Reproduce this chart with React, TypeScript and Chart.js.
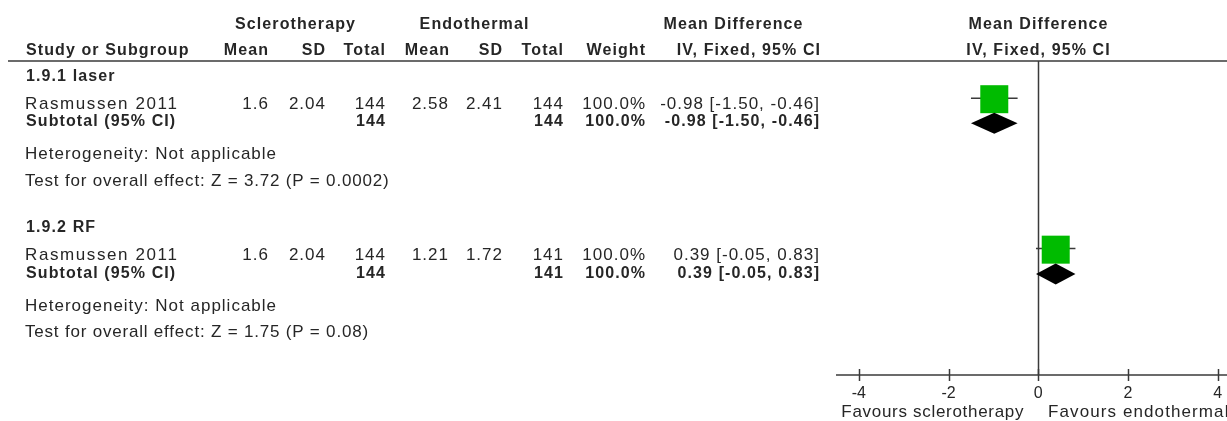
import React, { useEffect, useRef } from "react";
import { Chart, registerables } from "chart.js";

Chart.register(...registerables);

// ---- data ----
const subgroups = ["1.9.1 laser", "1.9.2 RF"];
const studies = ["Rasmussen 2011", "Rasmussen 2011"];
const scleroMean = [1.6, 1.6];
const scleroSD = [2.04, 2.04];
const scleroTotal = [144, 144];
const endoMean = [2.58, 1.21];
const endoSD = [2.41, 1.72];
const endoTotal = [144, 141];
const weights = [100.0, 100.0];
const meanDiff = [-0.98, 0.39];
const ciLow = [-1.5, -0.05];
const ciHigh = [-0.46, 0.83];
const heterogeneity = ["Heterogeneity: Not applicable", "Heterogeneity: Not applicable"];
const overallEffect = [
  "Test for overall effect: Z = 3.72 (P = 0.0002)",
  "Test for overall effect: Z = 1.75 (P = 0.08)",
];
const studyRow = [1.46, 7.21];
const subtotalRow = [2.38, 8.14];
const xTicks = [-4, -2, 0, 2, 4];
const favourLabels = ["Favours sclerotherapy", "Favours endothermal"];

// ---- layout / style ----
const FAM = "'Liberation Sans', Arial, sans-serif";
const TEXT = "#262626";
const LINE = "#3a3a3a";
const GREEN = "#00bb00";
const COL = { label: 26, sMean: 268, sSD: 325, sTot: 385, eMean: 448, eSD: 502, eTot: 563, weight: 645, ci: 819 };
const GROUP_BASE = [
  [81, 108.5, 126, 159, 185.5],
  [231.5, 259.5, 277.5, 310.7, 336.7],
];

const fmtCI = (i: number) =>
  `${meanDiff[i].toFixed(2)} [${ciLow[i].toFixed(2)}, ${ciHigh[i].toFixed(2)}]`;

function txt(ctx: CanvasRenderingContext2D, s: string, x: number, y: number, align: CanvasTextAlign, bold = false, ls?: number) {
  ctx.font = bold ? `bold 16px ${FAM}` : `17px ${FAM}`;
  const sp = ls !== undefined ? ls : bold ? 1.1 : 1;
  (ctx as any).letterSpacing = `${sp}px`;
  ctx.textAlign = align;
  ctx.textBaseline = "alphabetic";
  ctx.fillStyle = TEXT;
  const dx = align === "right" ? sp : align === "center" ? sp / 2 : 0;
  ctx.fillText(s, x + dx, y);
  (ctx as any).letterSpacing = "0px";
}

const forestPlugin = {
  id: "forest",
  beforeDatasetsDraw(chart: any) {
    const ctx: CanvasRenderingContext2D = chart.ctx;
    const xs = chart.scales.x;
    const area = chart.chartArea;
    ctx.save();
    ctx.strokeStyle = LINE;
    ctx.lineWidth = 1.5;
    // header rule
    ctx.beginPath();
    ctx.moveTo(8, area.top);
    ctx.lineTo(chart.width, area.top);
    ctx.stroke();
    // zero line
    const x0 = Math.round(xs.getPixelForValue(0)) + 0.5;
    ctx.beginPath();
    ctx.moveTo(x0, area.top);
    ctx.lineTo(x0, area.bottom);
    ctx.stroke();
    // axis line
    ctx.beginPath();
    ctx.moveTo(area.left, area.bottom);
    ctx.lineTo(area.right, area.bottom);
    ctx.stroke();
    // tick marks crossing the axis
    xTicks.forEach((v) => {
      const px = Math.round(xs.getPixelForValue(v)) + 0.5;
      ctx.beginPath();
      ctx.moveTo(px, area.bottom - 6);
      ctx.lineTo(px, area.bottom + 6);
      ctx.stroke();
    });
    ctx.restore();
  },
  afterDatasetsDraw(chart: any) {
    const ctx: CanvasRenderingContext2D = chart.ctx;
    const xs = chart.scales.x;
    const ys = chart.scales.y;
    ctx.save();
    // subtotal diamonds
    subtotalRow.forEach((r, i) => {
      const y = ys.getPixelForValue(r);
      const h = 10.5;
      ctx.beginPath();
      ctx.moveTo(xs.getPixelForValue(ciLow[i]), y);
      ctx.lineTo(xs.getPixelForValue(meanDiff[i]), y - h);
      ctx.lineTo(xs.getPixelForValue(ciHigh[i]), y);
      ctx.lineTo(xs.getPixelForValue(meanDiff[i]), y + h);
      ctx.closePath();
      ctx.fillStyle = "#000";
      ctx.fill();
    });

    // table text
    txt(ctx, "Sclerotherapy", 295, 29, "center", true);
    txt(ctx, "Endothermal", 474, 29, "center", true);
    txt(ctx, "Mean Difference", 733, 29, "center", true);
    txt(ctx, "Mean Difference", 1038, 29, "center", true);

    txt(ctx, "Study or Subgroup", COL.label, 55, "left", true);
    txt(ctx, "Mean", COL.sMean, 55, "right", true);
    txt(ctx, "SD", COL.sSD, 55, "right", true);
    txt(ctx, "Total", COL.sTot, 55, "right", true);
    txt(ctx, "Mean", 449, 55, "right", true);
    txt(ctx, "SD", COL.eSD, 55, "right", true);
    txt(ctx, "Total", COL.eTot, 55, "right", true);
    txt(ctx, "Weight", COL.weight, 55, "right", true);
    txt(ctx, "IV, Fixed, 95% CI", 820, 55, "right", true);
    txt(ctx, "IV, Fixed, 95% CI", 1038, 55, "center", true);

    GROUP_BASE.forEach((b, i) => {
      txt(ctx, subgroups[i], COL.label, b[0], "left", true);
      txt(ctx, studies[i], COL.label - 1, b[1], "left", false, 1.6);
      txt(ctx, String(scleroMean[i]), COL.sMean, b[1], "right");
      txt(ctx, scleroSD[i].toFixed(2), COL.sSD, b[1], "right");
      txt(ctx, String(scleroTotal[i]), COL.sTot, b[1], "right");
      txt(ctx, String(endoMean[i]), COL.eMean, b[1], "right");
      txt(ctx, endoSD[i].toFixed(2), COL.eSD, b[1], "right");
      txt(ctx, String(endoTotal[i]), COL.eTot, b[1], "right");
      txt(ctx, `${weights[i].toFixed(1)}%`, COL.weight, b[1], "right");
      txt(ctx, fmtCI(i), COL.ci, b[1], "right");

      txt(ctx, "Subtotal (95% CI)", COL.label, b[2], "left", true);
      txt(ctx, String(scleroTotal[i]), COL.sTot, b[2], "right", true);
      txt(ctx, String(endoTotal[i]), COL.eTot, b[2], "right", true);
      txt(ctx, `${weights[i].toFixed(1)}%`, COL.weight, b[2], "right", true);
      txt(ctx, fmtCI(i), COL.ci, b[2], "right", true);

      txt(ctx, heterogeneity[i], COL.label - 1, b[3], "left");
      txt(ctx, overallEffect[i], COL.label - 1, b[4], "left", false, 0.8);
    });

    // favours labels
    txt(ctx, favourLabels[0], 1023.5, 416.5, "right", false, 0.7);
    txt(ctx, favourLabels[1], 1048, 416.5, "left", false, 1.1);
    ctx.restore();
  },
};

export default function App() {
  const ref = useRef<HTMLCanvasElement | null>(null);
  useEffect(() => {
    document.body.style.margin = "0";
    const canvas = ref.current;
    if (!canvas) return;
    const whiskers = meanDiff.map((_, i) => ({
      type: "line" as const,
      data: [
        { x: ciLow[i], y: studyRow[i] - 0.04 },
        { x: ciHigh[i], y: studyRow[i] - 0.04 },
      ],
      borderColor: LINE,
      borderWidth: 1.5,
      pointRadius: 0,
      fill: false,
      order: 2,
    }));
    const chart = new Chart(canvas, {
      type: "scatter",
      data: {
        datasets: [
          ...whiskers,
          {
            type: "scatter",
            data: meanDiff.map((m, i) => ({ x: m, y: studyRow[i] })),
            pointStyle: "rect",
            pointRadius: 19.8,
            backgroundColor: GREEN,
            borderWidth: 0,
            order: 1,
          },
        ] as any,
      },
      options: {
        responsive: false,
        maintainAspectRatio: false,
        animation: false,
        events: [],
        layout: { autoPadding: false, padding: { left: 836, right: 0, top: 61, bottom: 0 } },
        plugins: { legend: { display: false }, tooltip: { enabled: false } },
        scales: {
          x: {
            type: "linear",
            min: -4.51,
            max: 4.21,
            position: "bottom",
            afterBuildTicks: (s: any) => {
              s.ticks = xTicks.map((v) => ({ value: v }));
            },
            afterFit: (s: any) => {
              s.height = 46;
              s.paddingLeft = 0;
              s.paddingRight = 0;
            },
            grid: { display: false, drawTicks: false },
            border: { display: false },
            ticks: {
              padding: 9,
              color: TEXT,
              font: { family: FAM, size: 16 },
              maxRotation: 0,
              autoSkip: false,
              callback: (v: any) => String(v),
            },
          },
          y: { type: "linear", min: 0, max: 12, reverse: true, display: false },
        },
      } as any,
      plugins: [forestPlugin],
    });
    return () => chart.destroy();
  }, []);
  return (
    <div style={{ width: 1227, height: 421, background: "#fff" }}>
      <canvas ref={ref} width={1227} height={421} style={{ display: "block" }} />
    </div>
  );
}
